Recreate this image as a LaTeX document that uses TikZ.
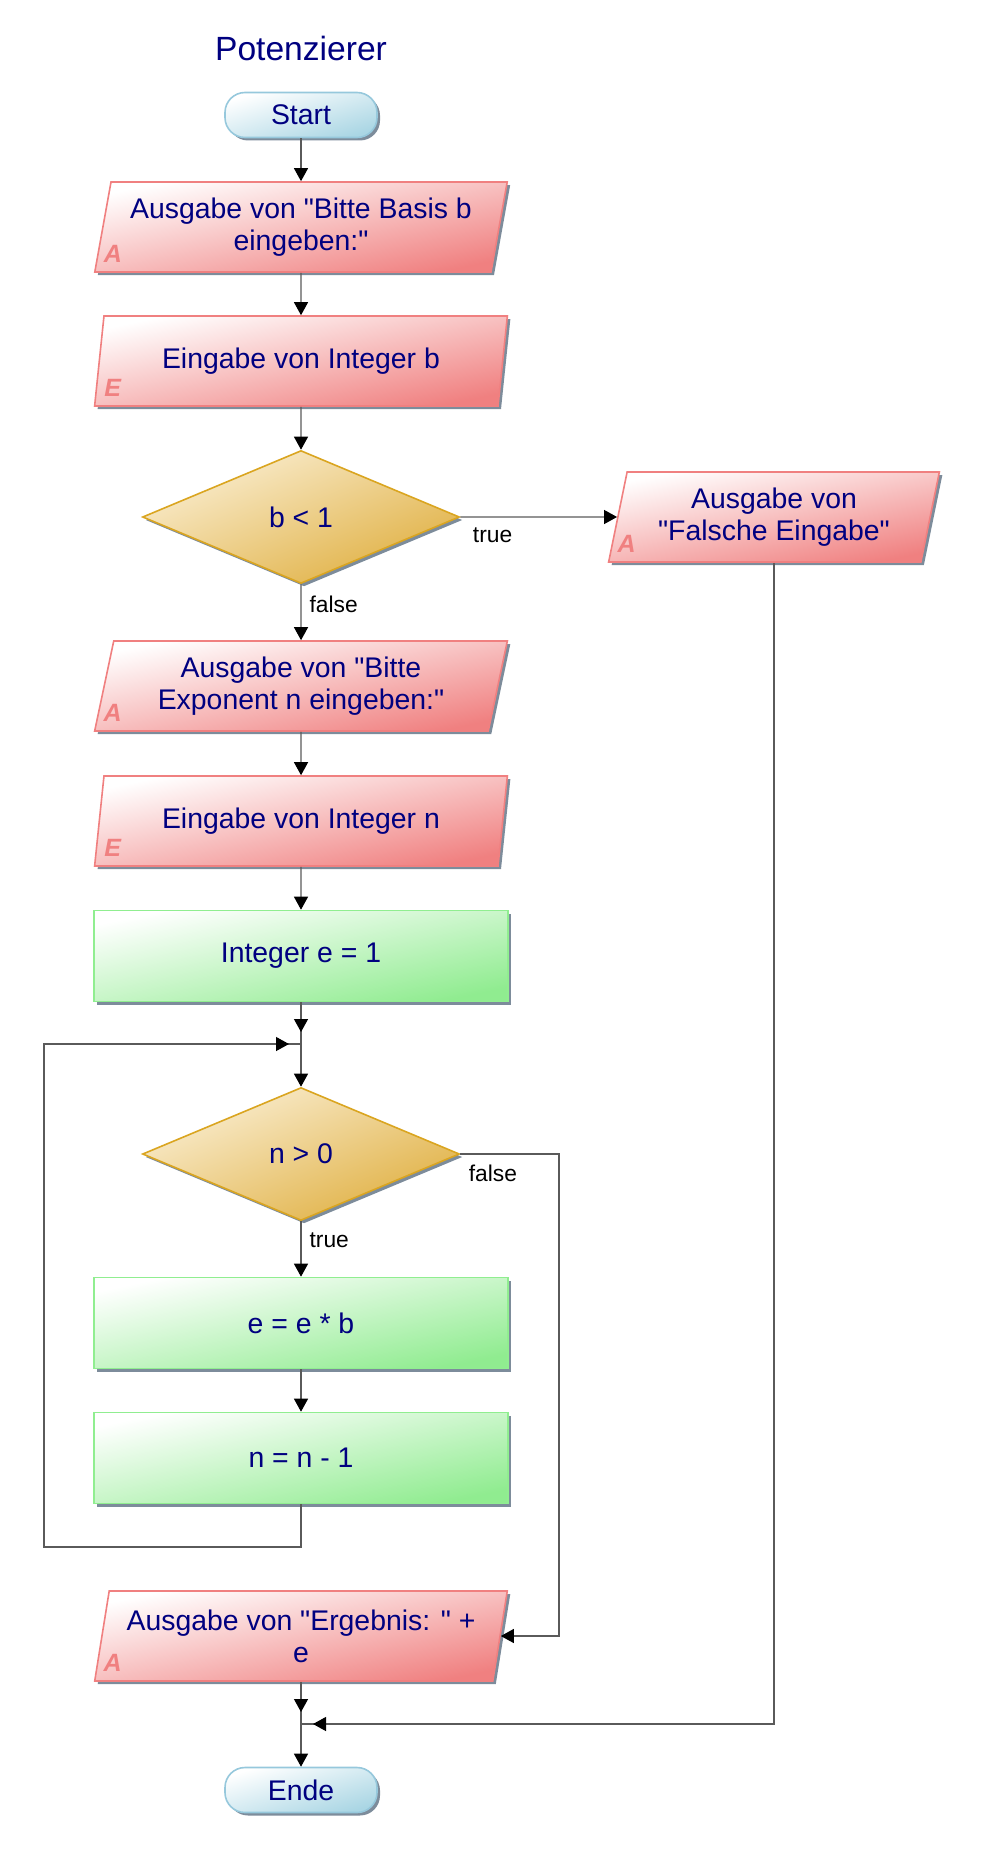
\documentclass[tikz,border=0pt]{standalone}
\usepackage{fontspec}
\setmainfont{Liberation Sans}
\usetikzlibrary{shapes.geometric,shadows,arrows.meta,decorations.markings}

\definecolor{navytext}{RGB}{0,0,128}
\definecolor{ioborder}{RGB}{240,128,128}
\definecolor{iofill}{RGB}{240,128,128}
\definecolor{procborder}{RGB}{144,238,144}
\definecolor{procfill}{RGB}{144,236,144}
\definecolor{decborder}{RGB}{218,165,32}
\definecolor{decfilltop}{RGB}{250,238,210}
\definecolor{decfillbot}{RGB}{224,176,66}
\definecolor{termborder}{RGB}{150,200,220}
\definecolor{termfill}{RGB}{170,214,228}
\definecolor{shadowgray}{RGB}{125,140,155}
\definecolor{linegray}{RGB}{90,90,90}

\newcommand{\qt}{\textquotedbl}

\tikzset{
  >={Triangle[length=6.5pt,width=7pt,color=black]},
  every node/.style={text=navytext, font=\fontsize{14.2}{16}\selectfont},
  boxshadow/.style={drop shadow={shadow xshift=1.5pt, shadow yshift=-1.5pt, fill=shadowgray, opacity=1}},
  term/.style={rectangle, rounded corners=10pt, draw=termborder, line width=0.8pt,
    top color=white, bottom color=termfill, shading angle=17,
    minimum width=76pt, minimum height=22.5pt, boxshadow},
  io/.style={trapezium, trapezium left angle=76, trapezium right angle=104,
    trapezium stretches=true, draw=ioborder, line width=0.8pt,
    top color=white, bottom color=iofill, shading angle=12,
    minimum width=206.5pt, minimum height=45pt, inner sep=0pt, align=center, boxshadow},
  proc/.style={rectangle, draw=procborder, line width=0.8pt,
    top color=white, bottom color=procfill, shading angle=12,
    minimum width=207pt, minimum height=45.5pt, boxshadow},
  decide/.style={diamond, draw=decborder, line width=0.8pt,
    top color=decfilltop, bottom color=decfillbot, shading angle=23,
    minimum width=158.5pt, minimum height=66.5pt, inner sep=0pt, boxshadow},
  iomark/.style={text=ioborder, font=\fontsize{12.5}{14}\selectfont\bfseries\itshape, inner sep=0pt},
  cond/.style={text=black, font=\fontsize{11.4}{13}\selectfont, inner sep=0pt},
  line/.style={draw=linegray, line width=0.6pt},
  flow/.style={line, ->},
  tojoint/.style={postaction={decorate},
    decoration={markings, mark=at position -6pt with {\arrow{>}}}},
}

\begin{document}
\begin{tikzpicture}[x=0.5pt, y=-0.5pt]
\useasboundingbox (0,0) rectangle (991,1857);

% Titel
\node[font=\fontsize{16.8}{20}\selectfont] (title) at (301,48) {Potenzierer};

% Hauptzweig
\node[term] (start) at (301,115) {Start};
\node[io] (basisout) at (301,227) {Ausgabe von \qt Bitte Basis b\\eingeben:\qt};
\node[io] (basisin) at (301,361) {Eingabe von Integer b};
\node[decide] (checkb) at (301,517) {b < 1};
\node[io, minimum width=165.5pt] (errout) at (774,517) {Ausgabe von\\\qt Falsche Eingabe\qt};
\node[io] (expout) at (301,686) {Ausgabe von \qt Bitte\\Exponent n eingeben:\qt};
\node[io] (expin) at (301,821) {Eingabe von Integer n};
\node[proc] (init) at (301,956) {Integer e = 1};
\coordinate (loopin) at (301,1044);
\node[decide] (checkn) at (301,1154) {n > 0};
\node[proc] (mult) at (301,1323) {e = e * b};
\node[proc] (dec) at (301,1458) {n = n - 1};
\coordinate (loopback) at (44,1547);
\coordinate (exitturn) at (559,1154);
\node[io] (resout) at (301,1636) {Ausgabe von \qt Ergebnis: \qt\ +\\e};
\coordinate (endin) at (301,1724);
\node[term] (ende) at (301,1790) {Ende};

% Kennbuchstaben A / E
\node[iomark] (basisoutA) at ([xshift=9.5pt,yshift=9.5pt]basisout.bottom left corner) {A};
\node[iomark] (basisinE) at ([xshift=9.5pt,yshift=9.5pt]basisin.bottom left corner) {E};
\node[iomark] (erroutA) at ([xshift=9.5pt,yshift=9.5pt]errout.bottom left corner) {A};
\node[iomark] (expoutA) at ([xshift=9.5pt,yshift=9.5pt]expout.bottom left corner) {A};
\node[iomark] (expinE) at ([xshift=9.5pt,yshift=9.5pt]expin.bottom left corner) {E};
\node[iomark] (resoutA) at ([xshift=9.5pt,yshift=9.5pt]resout.bottom left corner) {A};

% Verbindungen
\draw[flow] (start) -- (basisout);
\draw[flow] (basisout) -- (basisin);
\draw[flow] (basisin) -- (checkb);
\draw[flow] (checkb) -- node[cond, pos=0, anchor=north west, xshift=6pt, yshift=-5pt] {true} (errout);
\draw[flow] (checkb) -- node[cond, pos=0.35, right, xshift=4pt] {false} (expout);
\draw[flow] (expout) -- (expin);
\draw[flow] (expin) -- (init);
\draw[line, tojoint] (init) -- (loopin);
\draw[flow] (loopin) -- (checkn);
\draw[flow] (checkn) -- node[cond, pos=0.35, right, xshift=4pt] {true} (mult);
\draw[flow] (mult) -- (dec);
\draw[line, tojoint] (dec) |- (loopback) |- (loopin);
\draw[flow] (checkn.east) -- node[cond, pos=0, anchor=north west, xshift=4pt, yshift=-5pt] {false} (exitturn) |- (resout.east);
\draw[line, tojoint] (resout) -- (endin);
\draw[line, tojoint] (errout) |- (endin);
\draw[flow] (endin) -- (ende);

\end{tikzpicture}
\end{document}
